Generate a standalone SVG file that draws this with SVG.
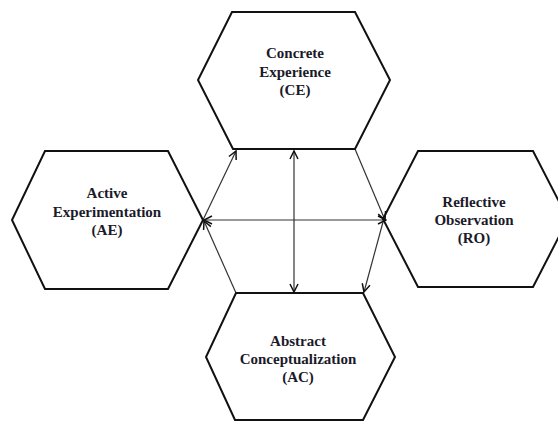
<svg xmlns="http://www.w3.org/2000/svg" width="558" height="422" viewBox="0 0 558 422">
<defs>
<marker id="ah" markerWidth="10" markerHeight="10" refX="9" refY="5" orient="auto-start-reverse" markerUnits="userSpaceOnUse">
<path d="M1,1 L9,5 L1,9" fill="none" stroke="#111" stroke-width="1.5"/>
</marker>
<style>
.hex{fill:none;stroke:#111;stroke-width:2;stroke-linejoin:miter}
.lbl{font-family:"Liberation Serif","Times New Roman",serif;font-weight:bold;font-size:15px;fill:#1a1a2a;text-anchor:middle}
.c{stroke:#333;stroke-width:1.2;fill:none}
</style>
</defs>
<rect width="558" height="422" fill="#fff"/>
<g id="connectors">
<line class="c" x1="294" y1="151" x2="294" y2="292" marker-start="url(#ah)" marker-end="url(#ah)"/>
<line class="c" x1="204" y1="220" x2="386" y2="220" marker-start="url(#ah)" marker-end="url(#ah)"/>
<line class="c" x1="203" y1="220" x2="236" y2="151" marker-end="url(#ah)"/>
<line class="c" x1="355" y1="149" x2="385" y2="220" marker-end="url(#ah)"/>
<line class="c" x1="383" y1="222" x2="364" y2="292" marker-end="url(#ah)"/>
<line class="c" x1="236" y1="293" x2="204" y2="221" marker-end="url(#ah)"/>
</g>
<g id="ce">
<polygon class="hex" points="232,12 355,12 390,80 355,149 233,149 198,80"/>
<text class="lbl" x="295" y="58">Concrete</text>
<text class="lbl" x="295" y="77">Experience</text>
<text class="lbl" x="295" y="95">(CE)</text>
</g>
<g id="ae">
<polygon class="hex" points="45,151 168,151 203,220 168,289 45,289 12,220"/>
<text class="lbl" x="107" y="198">Active</text>
<text class="lbl" x="107" y="217">Experimentation</text>
<text class="lbl" x="107" y="235">(AE)</text>
</g>
<g id="ro">
<polygon class="hex" points="418,151 533,151 568,219 533,287 418,287 383,219"/>
<text class="lbl" x="474" y="207">Reflective</text>
<text class="lbl" x="474" y="225">Observation</text>
<text class="lbl" x="474" y="243">(RO)</text>
</g>
<g id="ac">
<polygon class="hex" points="236,293 363,293 395,357 363,420 235,420 206,357"/>
<text class="lbl" x="298" y="346">Abstract</text>
<text class="lbl" x="298" y="364">Conceptualization</text>
<text class="lbl" x="298" y="382">(AC)</text>
</g>
</svg>
